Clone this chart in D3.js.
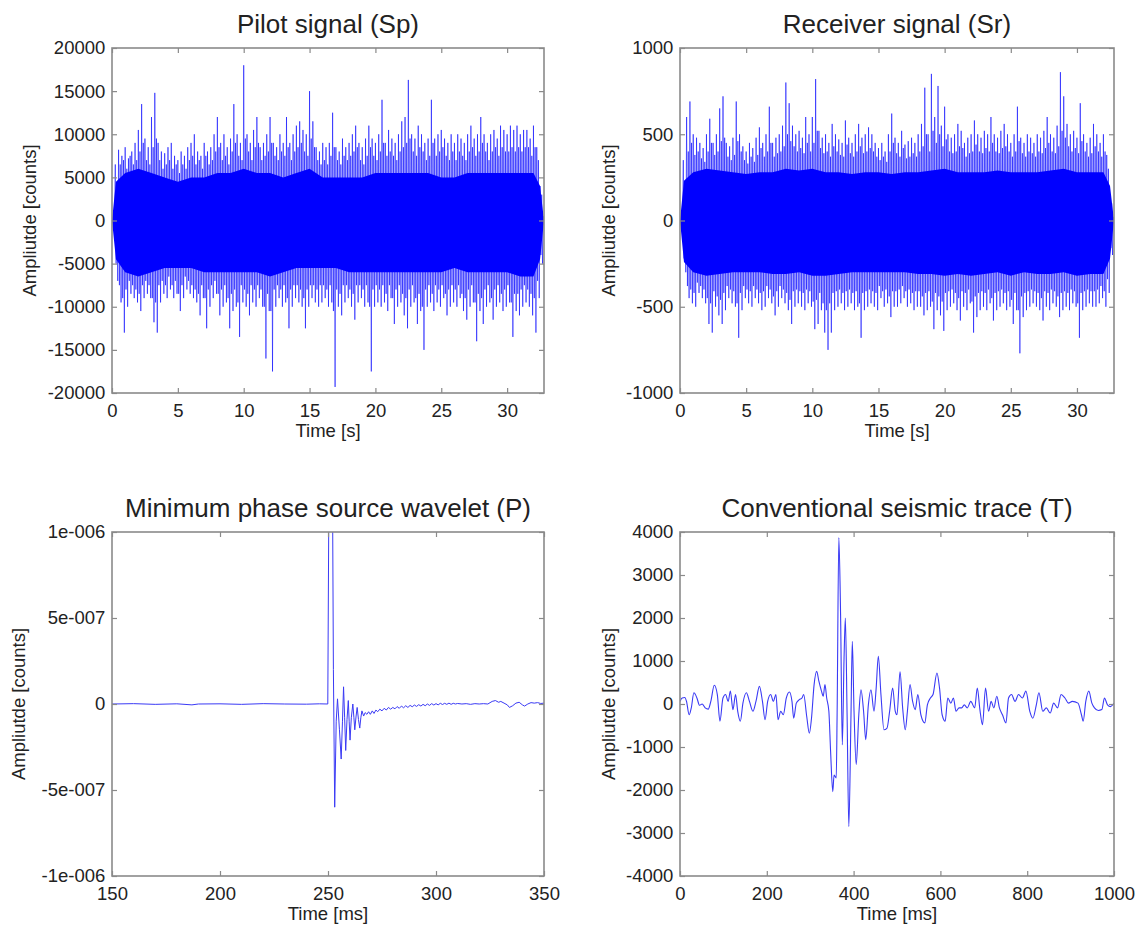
<!DOCTYPE html>
<html>
<head>
<meta charset="utf-8">
<script src="https://cdn.jsdelivr.net/npm/d3@7"></script>
<style>
  body { margin: 0; background: #fff; }
  text { font-family: Arial, "Liberation Sans", Helvetica, sans-serif; fill: #222; }
</style>
</head>
<body>
<svg id="fig" width="1145" height="931"></svg>
<script>
// ---------- Pilot signal (Sp): per-bin extremes, bins of 0.25 s ----------
const sweepBin = 0.25;
// outer peaks of each bin
const pilotHi = [0,6500,8200,7500,8500,7200,8000,9000,10500,13500,9500,8500,12000,14800,9000,8000,
  7800,8500,9000,7500,7000,8000,7500,8500,9000,10000,8000,7500,9000,8000,8500,10000,
  12000,9000,10000,8500,9500,13500,10000,9000,18000,10000,9000,10500,12000,8500,9000,10000,
  12000,9000,8500,10000,9000,12000,9000,10000,11000,11500,10500,10000,15000,11500,8500,8000,
  9000,8500,9000,12500,8500,8000,9500,8500,9000,10000,11000,9000,8500,9500,11000,9500,
  9000,10000,14000,9000,10500,9500,9000,10000,11500,12000,16300,10000,9500,11000,10000,9000,
  9500,14000,9500,10000,10500,9500,9000,10000,9000,10000,9500,9000,10000,11000,9500,10000,
  12000,10000,9000,10000,10500,9500,11000,10500,10000,11000,10500,11000,10000,10500,10500,9500,
  11000,8500,4000,500];
const pilotLo = [0,-7000,-9500,-13000,-10000,-8500,-9000,-9500,-10500,-9000,-8500,-9000,-11800,-13000,-9500,-8500,
  -9000,-8000,-9000,-8500,-10500,-9000,-8000,-8500,-9000,-9500,-11000,-9000,-12500,-10000,-9000,-8500,
  -11000,-10000,-9500,-12500,-10500,-10000,-13500,-9500,-10000,-11000,-9500,-10000,-9000,-10000,-16000,-10500,
  -17500,-10000,-9000,-10000,-9500,-12500,-10000,-9000,-9500,-10000,-12500,-10000,-9000,-9500,-10000,-9500,
  -9000,-10000,-9500,-19300,-10000,-11000,-9500,-9000,-10000,-11500,-9500,-9000,-10000,-9500,-17500,-10000,
  -9500,-10000,-9500,-10500,-9000,-12000,-10000,-9500,-11000,-12500,-10000,-9500,-12000,-10500,-15000,-10000,
  -9500,-10500,-9500,-10000,-9000,-11000,-10000,-9500,-10000,-9000,-10500,-11500,-10000,-9500,-14000,-10500,
  -12000,-10000,-9500,-11500,-10000,-9500,-10500,-10000,-9500,-13500,-10500,-11000,-10000,-9500,-10000,-11000,
  -13000,-9000,-5000,-800];
// secondary peaks of each bin
const pilotMidHi = [0,4000,6500,7000,6000,7500,6500,7000,8000,9000,7000,6500,8500,9500,7000,6000,
  6500,7000,6000,6500,5500,6500,6000,7000,7500,6500,7000,6000,7500,6500,7000,8000,
  8500,7000,7500,6500,8000,9000,7500,7000,9500,8000,7000,8500,9000,7000,7500,8000,
  9000,7500,7000,8000,7500,8500,7000,8000,8500,9000,8000,7500,9500,8500,7000,6500,
  7000,6500,7500,8500,7000,6500,7500,7000,7500,8000,8500,7000,6500,7500,8500,7500,
  7000,8000,9000,7500,8000,7500,7000,8000,8500,9000,9500,8000,7500,8500,8000,7000,
  7500,9000,7500,8000,8500,7500,7000,8000,7000,8000,7500,7000,8000,8500,7500,8000,
  9000,8000,7000,8000,8500,7500,8500,8000,8000,8500,8000,8500,8000,8500,8500,7500,
  8500,7000,3000,300];
const pilotMidLo = [0,-5000,-7500,-9000,-8000,-7000,-7500,-8000,-8500,-7500,-7000,-7500,-9000,-9500,-7500,-7000,
  -7500,-6500,-7500,-7000,-8500,-7500,-6500,-7000,-7500,-8000,-8500,-7500,-9000,-8000,-7500,-7000,
  -8500,-8000,-7500,-9000,-8500,-8000,-9500,-7500,-8000,-8500,-7500,-8000,-7500,-8000,-10000,-8500,
  -10500,-8000,-7500,-8000,-7500,-9000,-8000,-7500,-7500,-8000,-9000,-8000,-7500,-7500,-8000,-7500,
  -7500,-8000,-7500,-10500,-8000,-8500,-7500,-7500,-8000,-8500,-7500,-7500,-8000,-7500,-10000,-8000,
  -7500,-8000,-7500,-8500,-7500,-9000,-8000,-7500,-8500,-9000,-8000,-7500,-9000,-8500,-10000,-8000,
  -7500,-8500,-7500,-8000,-7500,-8500,-8000,-7500,-8000,-7500,-8500,-9000,-8000,-7500,-9500,-8500,
  -9000,-8000,-7500,-9000,-8000,-7500,-8500,-8000,-7500,-9500,-8500,-8500,-8000,-7500,-8000,-8500,
  -9000,-7000,-4000,-500];

// dense core of the sweep (solid band)
const coreTimes = [0,0.3,1,2,3,4,5,6,7,8,9,10,11,12,13,14,15,16,17,18,19,20,21,22,23,24,25,26,27,28,29,30,31,32,32.5,32.8];
const pilotCoreHi = [0,4500,5500,6000,5500,5000,4500,5000,5000,5500,5500,6000,5500,5500,5000,5500,6000,5000,5000,5000,
  5000,5500,5500,5500,5500,5500,5000,5000,5500,5500,5500,5500,5500,5500,4000,0];
const pilotCoreLo = [0,-4500,-6000,-6500,-6000,-5500,-5500,-5500,-6000,-6000,-6000,-6000,-6000,-6500,-6000,-5500,-5500,
  -5500,-5500,-6000,-6000,-6000,-6000,-6000,-6000,-6000,-6000,-5500,-6000,-6000,-6000,-6000,-6500,-6500,-4500,0];

// ---------- Receiver signal (Sr) ----------
const recvHi = [0,350,600,690,500,480,450,420,500,590,450,500,650,720,450,430,
  480,690,500,430,400,450,420,480,540,450,500,660,450,480,500,550,
  800,680,550,500,520,480,600,500,600,820,520,480,500,450,560,500,
  470,450,580,480,450,500,560,480,500,540,500,450,420,450,400,500,
  620,480,450,520,440,460,480,450,500,560,770,500,850,600,780,550,
  660,500,480,500,560,520,450,480,500,580,500,480,520,500,600,500,
  480,520,560,500,450,500,660,480,450,500,480,450,500,480,520,600,
  500,480,550,860,720,560,500,520,480,680,500,450,480,560,500,450,
  500,380,150,20];
const recvLo = [0,-300,-450,-480,-500,-420,-450,-480,-600,-650,-500,-550,-600,-520,-450,-480,
  -500,-680,-520,-450,-480,-500,-450,-480,-520,-500,-450,-480,-550,-500,-450,-480,
  -520,-600,-500,-480,-500,-520,-480,-500,-630,-600,-520,-650,-750,-650,-520,-500,
  -480,-520,-500,-480,-520,-500,-680,-520,-500,-480,-500,-520,-450,-500,-480,-560,
  -500,-500,-480,-450,-500,-480,-520,-500,-500,-550,-520,-500,-630,-520,-550,-640,
  -520,-500,-480,-520,-580,-500,-520,-480,-650,-560,-520,-500,-520,-480,-580,-520,
  -500,-480,-520,-500,-600,-520,-770,-560,-520,-500,-480,-500,-520,-580,-500,-520,
  -480,-500,-560,-520,-500,-520,-480,-500,-680,-520,-500,-480,-500,-500,-480,-450,
  -500,-420,-200,-30];
const recvMidHi = [0,200,400,450,380,400,360,340,400,450,380,400,460,480,370,350,
  380,460,400,350,330,370,340,380,420,370,400,450,370,390,400,430,
  500,460,430,400,420,390,450,400,450,520,420,390,400,370,430,400,
  380,370,440,390,370,400,430,390,400,420,400,370,350,370,340,400,
  450,390,370,420,360,370,390,370,400,430,500,400,520,450,500,430,
  470,400,390,400,430,420,370,390,400,440,400,390,420,400,450,400,
  390,420,430,400,370,400,460,390,370,400,390,370,400,390,420,450,
  400,390,430,520,480,430,400,420,390,460,400,370,390,430,400,370,
  400,300,100,10];
const recvMidLo = [0,-220,-380,-400,-420,-360,-380,-400,-450,-480,-410,-440,-460,-420,-380,-400,
  -410,-480,-420,-380,-400,-410,-380,-400,-420,-410,-380,-400,-440,-410,-380,-400,
  -420,-460,-410,-400,-410,-420,-400,-410,-470,-460,-420,-480,-520,-480,-420,-410,
  -400,-420,-410,-400,-420,-410,-480,-420,-410,-400,-410,-420,-380,-410,-400,-440,
  -410,-410,-400,-380,-410,-400,-420,-410,-410,-440,-420,-410,-470,-420,-440,-470,
  -420,-410,-400,-420,-450,-410,-420,-400,-470,-440,-420,-410,-420,-400,-450,-420,
  -410,-400,-420,-410,-460,-420,-520,-440,-420,-410,-400,-410,-420,-450,-410,-420,
  -400,-410,-440,-420,-410,-420,-400,-410,-480,-420,-410,-400,-410,-410,-400,-380,
  -410,-340,-160,-20];
const recvCoreHi = [0,230,280,300,290,280,270,280,280,300,290,300,280,280,270,280,280,270,280,280,
  290,300,280,280,280,290,280,280,280,290,300,280,280,280,200,0];
const recvCoreLo = [0,-240,-300,-320,-310,-300,-300,-300,-310,-310,-300,-320,-320,-310,-300,-300,-300,
  -300,-300,-310,-310,-320,-310,-320,-310,-300,-320,-300,-310,-310,-300,-320,-310,-310,-220,0];

// ---------- Minimum phase source wavelet (P) ----------
const waveletTime = [150,160,170,180,187,190,200,210,220,230,240,246,249.9,250.4,251.2,252.1,252.5,253.1,253.8,254.4,
  255.3,256.1,256.7,257.2,257.7,258.2,258.8,259.4,259.8,260.2,260.8,261.5,262.0,262.4,263.0,263.5,264.1,264.7,265.2,265.7,
  266.5,267.2,268.0,268.8,269.6,270.5,271.3,272.2,273,274,275,276,277,278,279,280,281,282,283,284,285,286,287,288,289,
  290,291,292,293,294,295,296,297,298,299,300,301,302,303,304,305,306,307,308,309,310,312,314,316,318,320,322,324,
  326,327.5,329,330,331.5,333,334,335.5,337,338.5,340,341,342.5,344,345.5,347,348.5,350];
const waveletAmp = [0,0.2e-8,-0.2e-8,0.1e-8,-0.5e-8,0,0.1e-8,-0.2e-8,0.2e-8,0,-0.1e-8,0.1e-8,0,1.2e-6,2.0e-6,1.2e-6,0.2e-6,-6.0e-7,-1.0e-7,0.3e-7,
  -1.5e-7,-3.2e-7,-1.0e-7,1.0e-7,-0.8e-7,-2.7e-7,-0.9e-7,0.2e-7,-1.0e-7,-2.1e-7,-0.8e-7,0,-0.8e-7,-1.5e-7,-0.7e-7,-0.2e-7,-0.9e-7,-1.4e-7,-0.8e-7,-0.4e-7,
  -0.7e-7,-0.5e-7,-0.6e-7,-0.45e-7,-0.6e-7,-0.4e-7,-0.55e-7,-0.35e-7,-0.45e-7,-0.3e-7,-0.4e-7,-0.25e-7,-0.35e-7,-0.2e-7,-0.3e-7,-0.2e-7,-0.28e-7,-0.15e-7,-0.25e-7,-0.12e-7,-0.22e-7,-0.1e-7,-0.2e-7,-0.08e-7,-0.16e-7,
  -0.06e-7,-0.14e-7,-0.04e-7,-0.12e-7,-0.02e-7,-0.1e-7,0,-0.08e-7,0.02e-7,-0.06e-7,0.02e-7,-0.05e-7,0.04e-7,-0.03e-7,0.04e-7,-0.02e-7,0.05e-7,-0.02e-7,0.04e-7,0,0.03e-7,0,0.02e-7,-0.02e-7,0.02e-7,0,0.02e-7,0,
  0.15e-7,0.2e-7,0.1e-7,0.15e-7,0.05e-7,-0.05e-7,-0.2e-7,-0.1e-7,0.05e-7,0.1e-7,-0.05e-7,-0.12e-7,0,0.08e-7,0.05e-7,0.08e-7,0.03e-7,0.05e-7];
const waveletYTicks = [-1e-6, -5e-7, 0, 5e-7, 1e-6];
const waveletYTickLabels = ["-1e-006", "-5e-007", "0", "5e-007", "1e-006"];

// ---------- Conventional seismic trace (T) ----------
const traceTime = [0,5,11,15,21,26,32,39,45,51,58,65,71,79,86,92,99,105,111,116,122,128,133,139,145,153,160,168,175,183,
  190,196,202,209,215,221,226,232,238,245,252,258,262,268,275,281,285,292,298,303,309,315,320,326,330,334,338,343,347,352,
  355,360,362,366,370,374,378,381,385,389,394,397,401,406,412,417,423,428,434,440,447,452,457,463,470,477,483,490,496,500,
  507,513,519,524,530,536,542,548,555,564,570,577,583,592,598,604,611,617,624,630,636,643,649,655,662,670,679,685,691,697,
  704,711,717,723,730,736,743,751,757,764,772,780,789,797,806,813,821,827,836,844,853,861,870,878,887,895,904,917,925,929,
  935,942,949,955,964,972,978,985,992,1000];
const traceAmp = [60,140,150,60,-250,-90,260,140,-30,0,-90,-120,60,435,220,-400,140,220,60,300,-130,220,-170,-400,20,260,
  60,-170,60,410,60,-365,60,220,60,220,-365,-170,-250,140,280,60,-330,20,100,140,220,-290,-680,-330,450,760,530,300,180,450,
  140,-170,-1100,-2040,-1650,-1720,-250,3870,2080,-950,1070,2000,-250,-2850,-250,1460,-170,-1410,-250,330,-170,-830,-20,330,
  -170,370,1110,220,-600,-560,-170,370,-170,-250,750,-90,-600,-170,450,60,-130,220,-250,-440,-20,140,220,720,370,-250,-400,
  140,20,140,-170,-90,-90,-20,-90,60,-90,370,-130,-480,370,-170,60,-90,180,-90,-250,-440,140,220,60,220,140,300,-170,-330,
  -20,260,-170,-90,-210,20,-90,220,140,20,60,20,-250,-400,60,300,20,-90,-150,-130,140,-20,-60,20];

// ---------- figure ----------
const svg = d3.select("#fig");
const frameColor = "#8a8a8a";
const traceColor = "#0000ff";
let clipId = 0;

function makePanel(o) {
  const x = d3.scaleLinear().domain(o.xDomain).range([o.left, o.right]);
  const y = d3.scaleLinear().domain(o.yDomain).range([o.bottom, o.top]);
  const g = svg.append("g");

  const id = "clip" + (clipId++);
  svg.append("clipPath").attr("id", id).append("rect")
    .attr("x", o.left).attr("y", o.top)
    .attr("width", o.right - o.left).attr("height", o.bottom - o.top);
  const plot = g.append("g").attr("clip-path", `url(#${id})`);

  const tickLen = -5;
  const styleAxis = sel => {
    sel.select(".domain").remove();
    sel.selectAll(".tick line").attr("stroke", frameColor).attr("stroke-width", 1.2);
    sel.selectAll(".tick text").attr("fill", "#222").style("font-size", "18.5px")
      .style("font-family", "Arial, 'Liberation Sans', sans-serif");
  };
  g.append("g").attr("transform", `translate(0,${o.bottom})`)
    .call(d3.axisBottom(x).tickValues(o.xTicks).tickFormat(d => String(d))
      .tickSizeInner(tickLen).tickSizeOuter(0).tickPadding(10.4))
    .call(styleAxis);
  g.append("g").attr("transform", `translate(0,${o.top})`)
    .call(d3.axisTop(x).tickValues(o.xTicks).tickFormat("").tickSizeInner(tickLen).tickSizeOuter(0))
    .call(styleAxis);
  g.append("g").attr("transform", `translate(${o.left},0)`)
    .call(d3.axisLeft(y).tickValues(o.yTicks).tickFormat(o.yFormat)
      .tickSizeInner(tickLen).tickSizeOuter(0).tickPadding(6.7))
    .call(styleAxis);
  g.append("g").attr("transform", `translate(${o.right},0)`)
    .call(d3.axisRight(y).tickValues(o.yTicks).tickFormat("").tickSizeInner(tickLen).tickSizeOuter(0))
    .call(styleAxis);

  g.append("rect")
    .attr("x", o.left).attr("y", o.top)
    .attr("width", o.right - o.left).attr("height", o.bottom - o.top)
    .attr("fill", "none").attr("stroke", frameColor).attr("stroke-width", 1.6);

  g.append("text").attr("x", (o.left + o.right) / 2).attr("y", o.top - 15)
    .attr("text-anchor", "middle").style("font-size", "26px").text(o.title);
  g.append("text").attr("x", (o.left + o.right) / 2).attr("y", o.bottom + 44)
    .attr("text-anchor", "middle").style("font-size", "18.5px").text(o.xLabel);
  g.append("text")
    .attr("transform", `translate(${o.yLabelX},${(o.top + o.bottom) / 2}) rotate(-90)`)
    .attr("text-anchor", "middle").attr("dy", "0.35em")
    .style("font-size", "18.5px").text("Ampliutde [counts]");

  return { x, y, plot };
}

// zig-zag through the outer and secondary extremes of each bin of a long sweep
function sweepPoints(hi, lo, midHi, midLo, step) {
  const pts = [];
  hi.forEach((h, i) => {
    const t = i * step;
    pts.push([t, h]);
    pts.push([t + step * 0.25, midLo[i]]);
    pts.push([t + step * 0.5, midHi[i]]);
    pts.push([t + step * 0.75, lo[i]]);
  });
  return pts;
}

function drawSweep(p, s) {
  const line = d3.line().x(d => p.x(d[0])).y(d => p.y(d[1]));
  p.plot.append("path").datum(sweepPoints(s.hi, s.lo, s.midHi, s.midLo, sweepBin))
    .attr("d", line).attr("fill", "none")
    .attr("stroke", traceColor).attr("stroke-width", 0.8).attr("stroke-opacity", 0.7);
  const area = d3.area()
    .x((d, i) => p.x(coreTimes[i]))
    .y0((d, i) => p.y(s.coreLo[i]))
    .y1((d, i) => p.y(s.coreHi[i]));
  p.plot.append("path").datum(s.coreHi).attr("d", area).attr("fill", traceColor);
}

// Pilot signal
const p1 = makePanel({
  left: 112, right: 544, top: 48, bottom: 393,
  xDomain: [0, 32.8], yDomain: [-20000, 20000],
  xTicks: [0, 5, 10, 15, 20, 25, 30],
  yTicks: d3.range(-20000, 20001, 5000), yFormat: d => String(d),
  title: "Pilot signal (Sp)", xLabel: "Time [s]", yLabelX: 30
});
drawSweep(p1, { hi: pilotHi, lo: pilotLo, midHi: pilotMidHi, midLo: pilotMidLo,
  coreHi: pilotCoreHi, coreLo: pilotCoreLo });

// Receiver signal
const p2 = makePanel({
  left: 680, right: 1114, top: 48, bottom: 393,
  xDomain: [0, 32.8], yDomain: [-1000, 1000],
  xTicks: [0, 5, 10, 15, 20, 25, 30],
  yTicks: d3.range(-1000, 1001, 500), yFormat: d => String(d),
  title: "Receiver signal (Sr)", xLabel: "Time [s]", yLabelX: 609
});
drawSweep(p2, { hi: recvHi, lo: recvLo, midHi: recvMidHi, midLo: recvMidLo,
  coreHi: recvCoreHi, coreLo: recvCoreLo });

// Source wavelet
const p3 = makePanel({
  left: 112, right: 544, top: 532, bottom: 876,
  xDomain: [150, 350], yDomain: [-1e-6, 1e-6],
  xTicks: [150, 200, 250, 300, 350],
  yTicks: waveletYTicks, yFormat: (d, i) => waveletYTickLabels[i],
  title: "Minimum phase source wavelet (P)", xLabel: "Time [ms]", yLabelX: 19
});
p3.plot.append("path").datum(waveletTime)
  .attr("d", d3.line().x(d => p3.x(d)).y((d, i) => p3.y(waveletAmp[i])))
  .attr("fill", "none").attr("stroke", "#3a3af5").attr("stroke-width", 1);

// Seismic trace
const p4 = makePanel({
  left: 680, right: 1114, top: 532, bottom: 876,
  xDomain: [0, 1000], yDomain: [-4000, 4000],
  xTicks: [0, 200, 400, 600, 800, 1000],
  yTicks: d3.range(-4000, 4001, 1000), yFormat: d => String(d),
  title: "Conventional seismic trace (T)", xLabel: "Time [ms]", yLabelX: 609
});
p4.plot.append("path").datum(traceTime)
  .attr("d", d3.line().curve(d3.curveMonotoneX).x(d => p4.x(d)).y((d, i) => p4.y(traceAmp[i])))
  .attr("fill", "none").attr("stroke", "#3a3af5").attr("stroke-width", 1.1);
</script>
</body>
</html>
